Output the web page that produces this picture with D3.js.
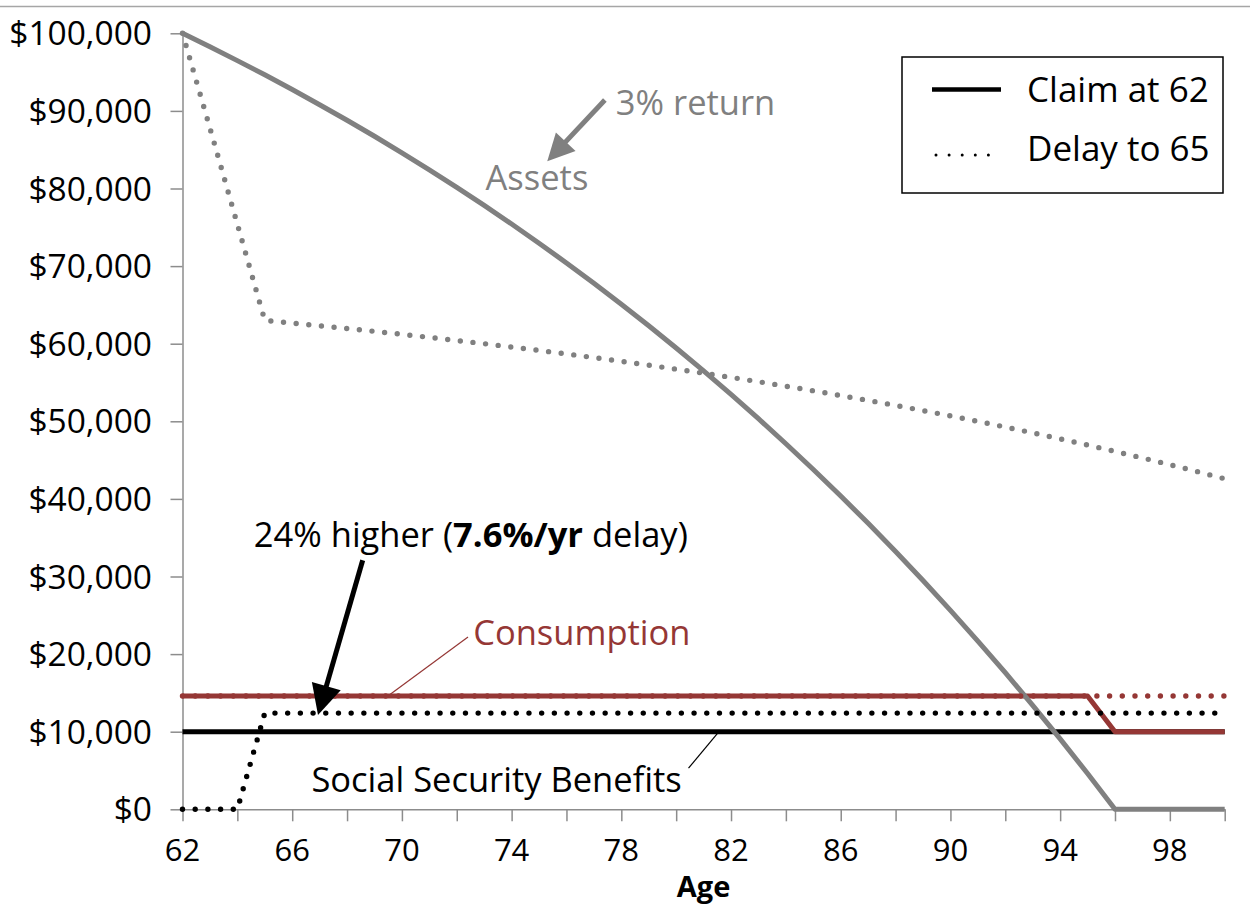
<!DOCTYPE html>
<html>
<head>
<meta charset="utf-8">
<script src="https://cdn.jsdelivr.net/npm/d3@7"></script>
<style>
  html, body { margin: 0; padding: 0; background: #fff; }
  svg { display: block; font-family: "Open Sans", sans-serif; }
</style>
</head>
<body>
<svg id="chart" width="1250" height="907"></svg>
<script>
// ---------------- DATA ----------------
const ages = [62,63,64,65,66,67,68,69,70,71,72,73,74,75,76,77,78,79,80,81,82,83,84,85,86,87,88,89,90,91,92,93,94,95,96,97,98,99,100];

// Assets, claim at 62 (solid gray)
const assetsClaim = [100000,98270,96480,94650,92750,90800,88800,86730,84600,82400,80150,77820,75420,72950,70410,67790,65090,62310,59450,56500,53460,50330,47110,43790,40370,36850,33230,29490,25640,21680,17600,13400,9070,4610,0,0,0,0,0];
// Assets, delay to 65 (dotted gray)
const assetsDelay = [100000,87800,75400,63000,62660,62310,61960,61590,61210,60820,60410,60000,59570,59130,58680,58210,57730,57230,56720,56200,55660,55100,54520,53930,53320,52690,52050,51380,50700,49990,49260,48510,47740,46940,46120,45280,44410,43520,42590];
// Social Security benefits
const ssClaim = [10000,10000,10000,10000,10000,10000,10000,10000,10000,10000,10000,10000,10000,10000,10000,10000,10000,10000,10000,10000,10000,10000,10000,10000,10000,10000,10000,10000,10000,10000,10000,10000,10000,10000,10000,10000,10000,10000,10000];
const ssDelay = [0,0,0,12400,12400,12400,12400,12400,12400,12400,12400,12400,12400,12400,12400,12400,12400,12400,12400,12400,12400,12400,12400,12400,12400,12400,12400,12400,12400,12400,12400,12400,12400,12400,12400,12400,12400,12400,12400];
// Consumption
const consClaim = [14600,14600,14600,14600,14600,14600,14600,14600,14600,14600,14600,14600,14600,14600,14600,14600,14600,14600,14600,14600,14600,14600,14600,14600,14600,14600,14600,14600,14600,14600,14600,14600,14600,14600,10000,10000,10000,10000,10000];
const consDelay = [14600,14600,14600,14600,14600,14600,14600,14600,14600,14600,14600,14600,14600,14600,14600,14600,14600,14600,14600,14600,14600,14600,14600,14600,14600,14600,14600,14600,14600,14600,14600,14600,14600,14600,14600,14600,14600,14600,14600];

const xTickValues = [62,64,66,68,70,72,74,76,78,80,82,84,86,88,90,92,94,96,98,100];
const xLabelValues = [62,66,70,74,78,82,86,90,94,98];
const yTickValues = [0,10000,20000,30000,40000,50000,60000,70000,80000,90000,100000];

const legendLabels = ["Claim at 62", "Delay to 65"];

// ---------------- LAYOUT ----------------
const svg = d3.select("#chart");
const pLeft = 182.5, pRight = 1224.7, pTop = 33.3, pBottom = 809.3;
const x = d3.scaleLinear().domain([62, 100]).range([pLeft, pRight]);
const y = d3.scaleLinear().domain([0, 100000]).range([pBottom, pTop]);

const GRAY = "#808080", RED = "#953735", BLACK = "#000";
const axisGray = "#8c8c8c";

// frame line at top
svg.append("line").attr("x1", 0).attr("x2", 1250).attr("y1", 6.5).attr("y2", 6.5)
  .attr("stroke", "#a6a6a6").attr("stroke-width", 1.5);

// ---------------- AXES ----------------
const xAxis = svg.append("g").attr("transform", `translate(0,${pBottom})`)
  .call(d3.axisBottom(x).tickValues(xTickValues).tickSize(12).tickSizeOuter(0).tickFormat(""));
xAxis.select(".domain").attr("stroke", axisGray).attr("stroke-width", 1.5);
xAxis.selectAll(".tick line").attr("stroke", axisGray).attr("stroke-width", 1.5);

svg.append("g").selectAll("text").data(xLabelValues).join("text")
  .attr("x", d => x(d)).attr("y", 861)
  .attr("text-anchor", "middle").attr("font-size", 31).attr("fill", "#000")
  .text(d => d);

const yAxis = svg.append("g").attr("transform", `translate(${pLeft},0)`)
  .call(d3.axisLeft(y).tickValues(yTickValues).tickSize(12).tickSizeOuter(0).tickFormat(""));
yAxis.select(".domain").attr("stroke", axisGray).attr("stroke-width", 1.5);
yAxis.selectAll(".tick line").attr("stroke", axisGray).attr("stroke-width", 1.5);

const fmt = d3.format(",");
svg.append("g").selectAll("text").data(yTickValues).join("text")
  .attr("x", 152).attr("y", d => y(d)).attr("dy", "0.36em")
  .attr("text-anchor", "end").attr("font-size", 33.5).attr("fill", "#000")
  .text(d => "$" + fmt(d));

svg.append("text").attr("x", (pLeft + pRight) / 2).attr("y", 897)
  .attr("text-anchor", "middle").attr("font-size", 29).attr("font-weight", "bold")
  .text("Age");

// ---------------- SERIES ----------------
const line = d3.line().x((d, i) => x(ages[i])).y(d => y(d));
function drawSolid(vals, color, w) {
  svg.append("path").attr("d", line(vals)).attr("fill", "none")
    .attr("stroke", color).attr("stroke-width", w).attr("stroke-linejoin", "round");
}
function drawDotted(vals, color, w) {
  svg.append("path").attr("d", line(vals)).attr("fill", "none")
    .attr("stroke", color).attr("stroke-width", w)
    .attr("stroke-linecap", "round").attr("stroke-linejoin", "round")
    .attr("stroke-dasharray", "0 12.7");
}
drawSolid(ssClaim, BLACK, 5);
drawSolid(consClaim, RED, 5);
drawSolid(assetsClaim, GRAY, 5);
drawDotted(consDelay, RED, 5.4);
drawDotted(ssDelay, BLACK, 5.4);
drawDotted(assetsDelay, GRAY, 5.4);

// ---------------- ANNOTATIONS ----------------
function arrow(a0, v0, a1, v1, color, w, headLen, headW) {
  const x0 = x(a0), y0 = y(v0), x1 = x(a1), y1 = y(v1);
  const dx = x1 - x0, dy = y1 - y0, L = Math.hypot(dx, dy);
  const ux = dx / L, uy = dy / L;
  const bx = x1 - ux * headLen, by = y1 - uy * headLen;
  svg.append("line").attr("x1", x0).attr("y1", y0).attr("x2", bx + ux * 2).attr("y2", by + uy * 2)
    .attr("stroke", color).attr("stroke-width", w);
  svg.append("path").attr("d",
    `M${x1},${y1}L${bx - uy * headW / 2},${by + ux * headW / 2}L${bx + uy * headW / 2},${by - ux * headW / 2}Z`)
    .attr("fill", color);
}
// 3% return arrow
arrow(77.4, 91400, 75.3, 83500, GRAY, 5, 27, 27);
svg.append("text").attr("x", x(77.8)).attr("y", y(89500)).attr("font-size", 34.5).attr("fill", GRAY).text("3% return");
svg.append("text").attr("x", x(73.05)).attr("y", y(79800)).attr("font-size", 34.5).attr("fill", GRAY).text("Assets");

// 24% higher arrow
arrow(68.57, 32100, 66.94, 12150, BLACK, 5, 30, 30);
const t24 = svg.append("text").attr("x", x(64.6)).attr("y", y(33850)).attr("font-size", 34.5).attr("fill", BLACK);
t24.append("tspan").text("24% higher (");
t24.append("tspan").attr("font-weight", "bold").text("7.6%/yr");
t24.append("tspan").text(" delay)");

// Consumption label + leader
svg.append("line").attr("x1", x(72.41)).attr("y1", y(22200)).attr("x2", x(69.49)).attr("y2", y(14600))
  .attr("stroke", RED).attr("stroke-width", 1.2);
svg.append("text").attr("x", x(72.6)).attr("y", y(21200)).attr("font-size", 34.5).attr("fill", RED).text("Consumption");

// Social Security label + leader
svg.append("line").attr("x1", x(80.45)).attr("y1", y(5300)).attr("x2", x(81.56)).attr("y2", y(10000))
  .attr("stroke", BLACK).attr("stroke-width", 1.2);
svg.append("text").attr("x", x(66.7)).attr("y", y(2250)).attr("font-size", 34.5).attr("fill", BLACK).text("Social Security Benefits");

// ---------------- LEGEND ----------------
const lg = svg.append("g");
lg.append("rect").attr("x", 902).attr("y", 57).attr("width", 321).attr("height", 136)
  .attr("fill", "#fff").attr("stroke", "#000").attr("stroke-width", 1.5);
lg.append("line").attr("x1", 932).attr("x2", 1001).attr("y1", 89.5).attr("y2", 89.5)
  .attr("stroke", BLACK).attr("stroke-width", 4.5);
lg.append("line").attr("x1", 936).attr("x2", 1001).attr("y1", 155).attr("y2", 155)
  .attr("stroke", BLACK).attr("stroke-width", 3).attr("stroke-linecap", "round").attr("stroke-dasharray", "0 13.1");
lg.selectAll("text.lg").data(legendLabels).join("text").attr("class", "lg")
  .attr("x", 1027).attr("y", (d, i) => 102 + i * 59)
  .attr("font-size", 35).attr("fill", "#000").text(d => d);
</script>
</body>
</html>
